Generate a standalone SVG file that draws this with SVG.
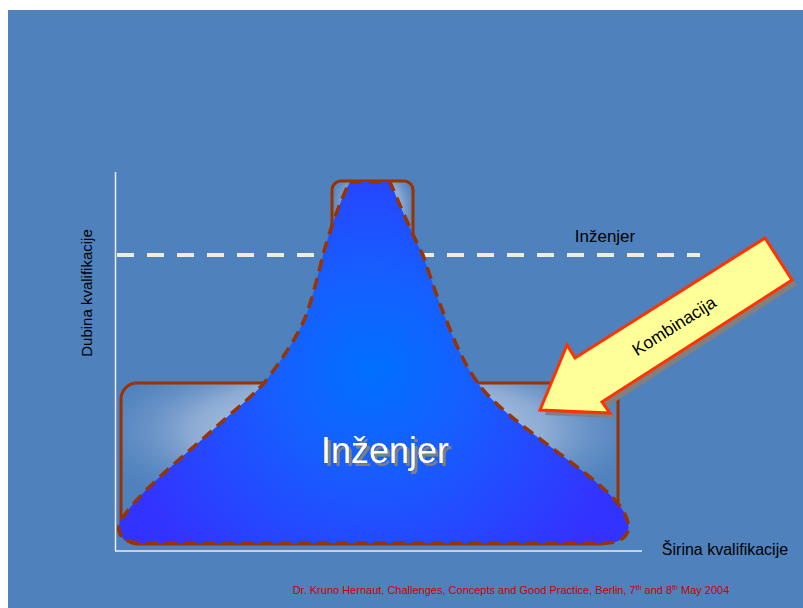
<svg xmlns="http://www.w3.org/2000/svg" width="803" height="608" viewBox="0 0 803 608">
<defs>
<style>
.lbl{font-family:"Liberation Sans","DejaVu Sans",sans-serif;fill:#000}
.frame{fill:url(#glow);stroke:#993300;stroke-width:3}
</style>
<radialGradient id="glow" cx="0.5" cy="0.3" r="0.6">
<stop offset="0" stop-color="#ffffff" stop-opacity="0.95"/>
<stop offset="0.6" stop-color="#c8d4ea" stop-opacity="0.5"/>
<stop offset="1" stop-color="#4F81BD" stop-opacity="0"/>
</radialGradient>
<radialGradient id="blue" gradientUnits="userSpaceOnUse" cx="372" cy="370" r="260">
<stop offset="0" stop-color="#0070FF"/>
<stop offset="0.35" stop-color="#1560FF"/>
<stop offset="1" stop-color="#3333FF"/>
</radialGradient>
<filter id="shadow" x="-10%" y="-20%" width="130%" height="150%">
<feDropShadow dx="3" dy="3" stdDeviation="0" flood-color="#808080" flood-opacity="1"/>
</filter>
</defs>
<rect x="0" y="0" width="803" height="608" fill="#ffffff"/>
<rect x="8" y="10" width="795" height="598" fill="#4F81BD"/>

<g id="axes" stroke="#EEEEEE" stroke-width="1.5" fill="none">
<line x1="115.5" y1="172" x2="115.5" y2="551"/>
<line x1="115" y1="551" x2="642" y2="551"/>
</g>
<g id="level-line">
<line x1="117" y1="255" x2="700" y2="255" stroke="#EEECE1" stroke-width="4" stroke-dasharray="17,13"/>
</g>

<g id="box-top"><rect class="frame" x="332" y="181" width="81" height="90" rx="9"/></g>
<g id="box-bottom"><rect class="frame" x="121" y="383" width="497" height="161" rx="16"/></g>

<g id="shape">
<path d="M350,182 L390,182 C398,200 410,230 423,255 C433,285 440,305 447,322 C458,350 468,372 485,392 C515,425 570,458 605,490 C625,508 633,525 626,535 C620,543 612,543 600,543 L140,543 C125,543 115,535 120,522 C135,495 185,455 215,428 C240,405 255,395 268,378 C285,355 298,335 305,318 C312,300 318,275 323,255 C330,230 340,200 350,182 Z" fill="url(#blue)" stroke="#993300" stroke-width="3.5" stroke-dasharray="12,7"/>
<text x="385" y="463" font-family="Liberation Sans, DejaVu Sans, sans-serif" font-size="36" text-anchor="middle" fill="#ffffff" filter="url(#shadow)">Inženjer</text>
</g>

<g id="arrow">
<polygon points="545,415 572,350 580,363 770,243 797,285 607,407 615,418" fill="#808080"/>
<polygon points="540,410 567,345 575,358 765,238 792,280 602,402 610,413" fill="#FFFF99" stroke="#FF3300" stroke-width="3" stroke-linejoin="miter"/>
<text class="lbl" x="674" y="332" font-size="17.5" text-anchor="middle" transform="rotate(-32.3 674 326)">Kombinacija</text>
</g>

<g id="labels">
<text class="lbl" x="605" y="242" font-size="17" text-anchor="middle">Inženjer</text>
<text class="lbl" x="725" y="555" font-size="16" text-anchor="middle">Širina kvalifikacije</text>
<text class="lbl" x="0" y="0" font-size="15" text-anchor="middle" transform="translate(92 293) rotate(-90)">Dubina kvalifikacije</text>
<text x="511" y="594" font-family="Liberation Sans, DejaVu Sans, sans-serif" font-size="11" fill="#CC0000" text-anchor="middle">Dr. Kruno Hernaut, Challenges, Concepts and Good Practice, Berlin, 7<tspan font-size="7" dy="-4">th</tspan><tspan dy="4"> and 8</tspan><tspan font-size="7" dy="-4">th</tspan><tspan dy="4"> May 2004</tspan></text>
</g>
</svg>
